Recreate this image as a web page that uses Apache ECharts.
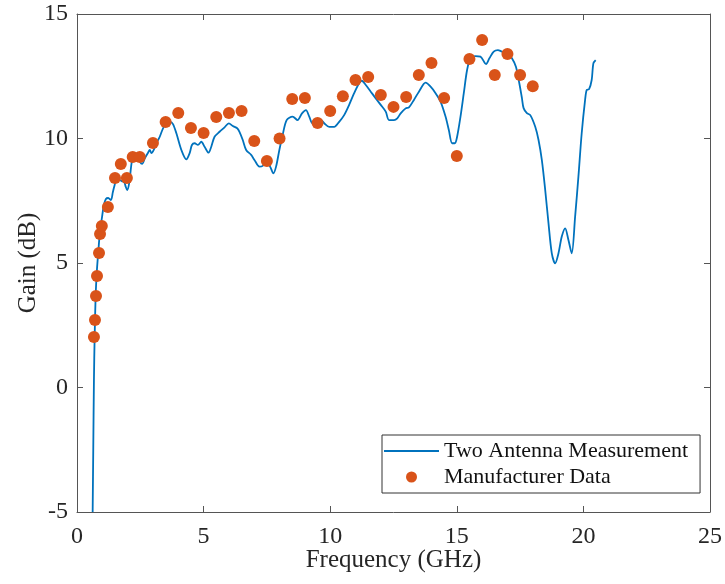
<!DOCTYPE html>
<html>
<head>
<meta charset="utf-8">
<script src="https://cdn.jsdelivr.net/npm/echarts@6/dist/echarts.min.js"></script>
<style>
html,body{margin:0;padding:0;background:#fff;}
#chart{width:725px;height:584px;}
</style>
</head>
<body>
<div id="chart"></div>
<script>
// Two Antenna Measurement (traced curve)
var freqLine = [0.618,0.642,0.669,0.697,0.736,0.787,0.846,0.906,0.984,1.063,1.142,1.232,1.339,1.417,1.469,1.563,1.693,1.772,1.862,1.929,1.980,2.059,2.154,2.217,2.350,2.480,2.571,2.677,2.807,2.874,2.941,3.031,3.138,3.268,3.398,3.531,3.689,3.791,3.925,4.122,4.319,4.449,4.539,4.646,4.776,4.909,5.039,5.197,5.303,5.433,5.630,5.827,5.996,6.154,6.327,6.417,6.547,6.681,6.878,7.008,7.205,7.335,7.469,7.626,7.756,7.862,7.992,8.122,8.280,8.516,8.713,8.886,9.043,9.173,9.303,9.461,9.634,9.764,9.961,10.157,10.354,10.551,10.748,10.945,11.142,11.248,11.406,11.602,11.799,11.996,12.193,12.323,12.520,12.650,12.783,12.980,13.110,13.307,13.504,13.768,13.965,14.161,14.358,14.555,14.685,14.815,14.921,15.012,15.146,15.276,15.406,15.539,15.736,15.933,16.154,16.287,16.457,16.626,16.783,16.980,17.177,17.335,17.469,17.571,17.638,17.768,17.902,18.098,18.228,18.358,18.492,18.622,18.752,18.886,19.016,19.146,19.280,19.409,19.539,19.673,19.803,19.933,20.067,20.130,20.224,20.327,20.394,20.484];
var gainLine = [-5.0,-2.51,0.30,2.03,3.67,4.72,5.52,6.24,6.81,7.33,7.57,7.61,7.53,7.85,8.06,8.33,8.33,8.29,8.25,8.05,7.93,8.20,9.00,9.27,9.34,9.07,8.98,9.20,9.43,9.54,9.41,9.54,9.81,10.07,10.41,10.61,10.67,10.58,10.21,9.54,9.16,9.41,9.74,9.81,9.74,9.87,9.67,9.43,9.67,10.07,10.27,10.45,10.61,10.50,10.41,10.27,9.94,9.54,9.34,9.14,8.87,8.90,9.07,8.87,8.60,8.87,9.54,10.14,10.74,10.88,10.74,11.01,11.14,10.88,10.61,10.67,10.74,10.61,10.47,10.47,10.67,10.94,11.35,11.82,12.22,12.32,12.15,11.88,11.61,11.35,11.08,10.74,10.74,10.81,11.01,11.21,11.25,11.55,11.88,12.24,12.08,11.82,11.48,10.88,10.34,9.81,9.81,10.07,10.88,11.82,12.75,13.22,13.31,13.29,12.99,13.22,13.49,13.55,13.49,13.45,13.22,12.88,12.22,11.63,11.22,11.02,10.94,10.47,9.94,9.14,7.93,6.59,5.39,4.99,5.39,6.06,6.39,5.92,5.39,6.86,8.47,10.21,11.55,11.95,11.98,12.35,13.02,13.15];

// Manufacturer Data
var freqMfr = [0.67,0.71,0.75,0.79,0.87,0.91,0.98,1.22,1.5,1.73,1.97,2.2,2.48,3.0,3.5,4.0,4.5,5.0,5.5,6.0,6.5,7.0,7.5,8.0,8.5,9.0,9.5,10.0,10.5,11.0,11.5,12.0,12.5,13.0,13.5,14.0,14.5,15.0,15.5,16.0,16.5,17.0,17.5,18.0];
var gainMfr = [2.03,2.71,3.67,4.48,5.4,6.16,6.49,7.25,8.41,8.98,8.41,9.26,9.26,9.82,10.66,11.02,10.42,10.22,10.86,11.02,11.1,9.9,9.1,10.0,11.59,11.63,10.62,11.1,11.7,12.35,12.47,11.75,11.27,11.67,12.55,13.03,11.63,9.3,13.19,13.96,12.55,13.39,12.55,12.1];

var xTicks = [0,5,10,15,20,25];
var yTicks = [-5,0,5,10,15];

var lineData = freqLine.map(function(f,i){return [f,gainLine[i]];});
var mfrData = freqMfr.map(function(f,i){return [f,gainMfr[i]];});

var FONT = 'Liberation Serif';
var axisCol = '#555555';
var txtCol = '#262626';

function xAxisCfg(pos, labels){
  return {
    type:'value', position:pos, min:xTicks[0], max:xTicks[xTicks.length-1], interval:5,
    axisLine:{show:true, onZero:false, lineStyle:{color:axisCol, width:1}},
    axisTick:{show:true, inside:true, length:6, lineStyle:{color:axisCol}},
    axisLabel:{show:labels, margin:13, color:txtCol, fontFamily:FONT, fontSize:24},
    splitLine:{show:false}
  };
}
function yAxisCfg(pos, labels){
  return {
    type:'value', position:pos, min:yTicks[0], max:yTicks[yTicks.length-1], interval:5,
    axisLine:{show:true, onZero:false, lineStyle:{color:axisCol, width:1}},
    axisTick:{show:true, inside:true, length:6, lineStyle:{color:axisCol}},
    axisLabel:{show:labels, margin:9, color:txtCol, fontFamily:FONT, fontSize:24},
    splitLine:{show:false}
  };
}

var xa = xAxisCfg('bottom', true);
xa.name = 'Frequency (GHz)';
xa.nameLocation = 'middle';
xa.nameGap = 36;
xa.nameMoveOverlap = false;
xa.nameTextStyle = {color:txtCol, fontFamily:FONT, fontSize:25};
var ya = yAxisCfg('left', true);
ya.name = 'Gain (dB)';
ya.nameLocation = 'middle';
ya.nameGap = 36;
ya.nameMoveOverlap = false;
ya.nameTextStyle = {color:txtCol, fontFamily:FONT, fontSize:25};

var chart = echarts.init(document.getElementById('chart'), null, {renderer:'canvas'});
chart.setOption({
  animation:false,
  backgroundColor:'#ffffff',
  grid:{left:77, right:13, top:14, bottom:72},
  xAxis:[xa, xAxisCfg('top', false)],
  yAxis:[ya, yAxisCfg('right', false)],
  legend:{
    orient:'vertical', left:382, top:435,
    padding:[5,12,5,2], itemGap:4, itemWidth:55, itemHeight:11,
    backgroundColor:'#ffffff', borderColor:'#333333', borderWidth:1, borderRadius:0,
    textStyle:{color:'#111111', fontFamily:FONT, fontSize:22},
    data:[
      {name:'Two Antenna Measurement', icon:'path://M0,0M0,4.6H55V6.4H0ZM55,11', itemStyle:{color:'#0072BD'}},
      {name:'Manufacturer Data', icon:'circle', itemStyle:{color:'#D95319'}}
    ]
  },
  series:[
    {
      name:'Two Antenna Measurement', type:'line', data:lineData,
      symbol:'none', smooth:0.3, z:2,
      lineStyle:{color:'#0072BD', width:1.8},
      itemStyle:{color:'#0072BD'}
    },
    {
      name:'Manufacturer Data', type:'scatter', data:mfrData,
      symbol:'circle', symbolSize:12, z:3,
      itemStyle:{color:'#D95319', opacity:1}
    }
  ]
});
</script>
</body>
</html>
